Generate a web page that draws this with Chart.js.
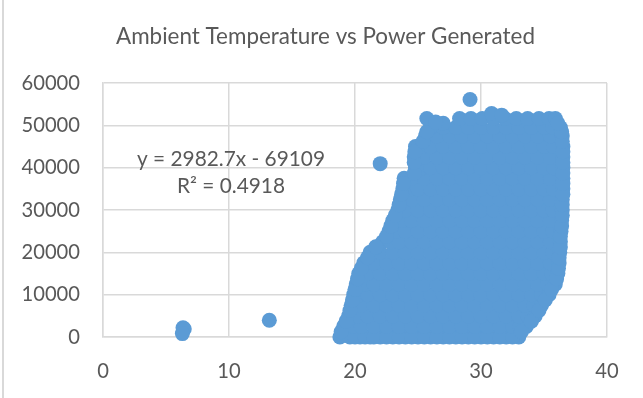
<!DOCTYPE html>
<html>
<head>
<meta charset="utf-8">
<script src="https://cdn.jsdelivr.net/npm/chart.js@4/dist/chart.umd.min.js"></script>
<style>
  html, body { margin: 0; padding: 0; background: #ffffff; }
  #wrap { position: relative; width: 643px; height: 398px; }
</style>
</head>
<body>
<div id="wrap"><canvas id="chart" width="643" height="398"></canvas></div>
<script>
// ---- chart text ----
const chartTitle = 'Ambient Temperature vs Power Generated';
const trendLabel = ['y = 2982.7x - 69109', 'R\u00B2 = 0.4918'];

// ---- axis ticks ----
const xTicks = [0, 10, 20, 30, 40];
const yTicks = [0, 10000, 20000, 30000, 40000, 50000, 60000];

// ---- readings: ambient temperature (x) vs power generated (y) ----
// dense band of readings, grouped by power level
const bandPower = [0, 0, 2500, 5000, 7500, 10000, 12500, 15000, 17500, 20000, 22500, 25000,
  27500, 30000, 32500, 35000, 37500, 40000, 42500, 45000, 47500, 49500, 51600];
const bandTemps = [
  [18.8,19.6,20.4,21.2,22,23,24,25,26,27,28,29,30,31,32,33],
  [20.0,20.8,21.5,22.5,23.5,24.5,25.5,26.5,27.5,28.5,29.5,30.5,31.5,32.5],
  [19.1,19.9,20.5,21.5,22.5,23.5,24.5,25.5,26.5,27.5,28.5,29.5,30.5,31.5,32.5,33.1,33.6],
  [19.5,20.2,21,22,23,24,25,26,27,28,29,30,31,32,33,33.7,34.3],
  [19.7,20.5,21.5,22.5,23.5,24.5,25.5,26.5,27.5,28.5,29.5,30.5,31.5,32.5,33.5,34.2,34.8],
  [19.9,20.45,21,22,23,24,25,26,27,28,29,30,31,32,33,34,34.8,35.4],
  [20.1,20.8,21.5,22.5,23.5,24.5,25.5,26.5,27.5,28.5,29.5,30.5,31.5,32.5,33.5,34.5,35.3,35.9],
  [20.3,21,22,23,24,25,26,27,28,29,30,31,32,33,34,35,35.6,36.1],
  [20.7,21.5,22.5,23.5,24.5,25.5,26.5,27.5,28.5,29.5,30.5,31.5,32.5,33.5,34.5,35.5,36.2],
  [21.2,22,23,24,25,26,27,28,29,30,31,32,33,34,35,35.7,36.25],
  [22.2,22.85,23.5,24.5,25.5,26.5,27.5,28.5,29.5,30.5,31.5,32.5,33.5,34.5,35.5,36.3],
  [22.7,23.35,24,25,26,27,28,29,30,31,32,33,34,35,35.7,36.35],
  [23,23.75,24.5,25.5,26.5,27.5,28.5,29.5,30.5,31.5,32.5,33.5,34.5,35.5,36.4],
  [23.4,24,25,26,27,28,29,30,31,32,33,34,35,35.7,36.45],
  [23.6,24.5,25.5,26.5,27.5,28.5,29.5,30.5,31.5,32.5,33.5,34.5,35.5,36.45],
  [23.8,24.4,25,26,27,28,29,30,31,32,33,34,35,35.75,36.5],
  [23.9,24.5,25.5,26.5,27.5,28.5,29.5,30.5,31.5,32.5,33.5,34.5,35.5,36.5],
  [24.8,25.4,26,27,28,29,30,31,32,33,34,35,35.75,36.5],
  [24.7,25.5,26.5,27.5,28.5,29.5,30.5,31.5,32.5,33.5,34.5,35.5,36.5],
  [24.8,25.4,26,27,28,29,30,31,32,33,34,35,35.75,36.5],
  [25.6,26.5,27.5,28.5,29.5,30.5,31.5,32.5,33.5,34.5,35.5,36.45],
  [26,27,28,29,30,31,32,33,34,35,35.7,36.3],
  [28.3,29.2,30.1,31,31.9,32.8,33.7,34.6,35.4,35.9]
];
// outermost readings at the in-between power levels (coolest and hottest)
const edgePower = [1250, 3750, 6250, 8750, 11250, 13750, 16250, 18750, 21250, 23750, 26250,
  28750, 31250, 33750, 36250, 38750, 41250, 43750, 46250, 48500, 50500];
const edgeCool = [18.9, 19.3, 19.6, 19.8, 20.0, 20.2, 20.5, 21.0, 21.7, 22.5, 22.85,
  23.2, 23.5, 23.7, 23.85, 24.7, 24.7, 24.75, 25.4, 25.7, 27.0];
const edgeHot = [33.2, 34.0, 34.6, 35.1, 35.6, 36.0, 36.15, 36.2, 36.3, 36.3, 36.4,
  36.45, 36.45, 36.5, 36.5, 36.5, 36.5, 36.5, 36.45, 36.4, 36.1];
// scattered individual readings
const sparseTemp  = [6.35, 6.45, 6.3, 13.2, 21.65, 22.0, 25.7, 26.4, 29.13, 30.84, 31.64];
const sparsePower = [2200, 1900, 800, 3960, 21300, 40950, 51600, 50800, 56100, 52800, 52400];

// ---- build the point list ----
const points = [];
bandPower.forEach((p, i) => bandTemps[i].forEach(t => points.push({ x: t, y: p })));
edgePower.forEach((p, i) => {
  points.push({ x: edgeCool[i], y: p });
  points.push({ x: edgeHot[i], y: p });
});
sparseTemp.forEach((t, i) => points.push({ x: t, y: sparsePower[i] }));

// ---- styling ----
const FONT = "Lato, 'Open Sans', 'DejaVu Sans', sans-serif";
const TEXT = '#595959';
const GRID = '#D9D9D9';
const MARK = '#5B9BD5';

// font size that makes a string span a given width
function fitSize(text, width) {
  const c = document.createElement('canvas').getContext('2d');
  c.font = '100px ' + FONT;
  return 100 * width / c.measureText(text).width;
}
const titleSize = fitSize(chartTitle, 419);
const tickSize = fitSize('60000', 58.5);
const labelSize = fitSize(trendLabel[0], 188);

const decorations = {
  id: 'decorations',
  beforeDraw(chart) {
    const ctx = chart.ctx;
    ctx.save();
    ctx.fillStyle = '#ffffff';
    ctx.fillRect(0, 0, chart.width, chart.height);
    ctx.fillStyle = GRID;
    ctx.fillRect(2, 0, 2, chart.height);
    ctx.restore();
  },
  afterDraw(chart) {
    const ctx = chart.ctx;
    const a = chart.chartArea;
    ctx.save();
    ctx.fillStyle = TEXT;
    ctx.textAlign = 'center';
    ctx.textBaseline = 'middle';
    ctx.font = titleSize.toFixed(2) + 'px ' + FONT;
    ctx.fillText(chartTitle, 325.5, 37);
    ctx.font = labelSize.toFixed(2) + 'px ' + FONT;
    ctx.fillText(trendLabel[0], a.left + 128, a.top + 76);
    ctx.fillText(trendLabel[1], a.left + 128, a.top + 103);
    ctx.restore();
  }
};

new Chart(document.getElementById('chart'), {
  type: 'scatter',
  data: {
    datasets: [{
      data: points,
      backgroundColor: MARK,
      borderColor: MARK,
      borderWidth: 0,
      pointRadius: 7.5,
      pointHoverRadius: 7.5,
      clip: false
    }]
  },
  options: {
    responsive: false,
    animation: false,
    devicePixelRatio: 1,
    events: [],
    layout: { padding: { top: 83, right: 36, left: 0, bottom: 0 } },
    plugins: { legend: { display: false }, tooltip: { enabled: false }, title: { display: false } },
    scales: {
      x: {
        type: 'linear', min: 0, max: 40,
        afterBuildTicks(s) { s.ticks = xTicks.map(v => ({ value: v })); },
        afterFit(s) { s.height = 61; },
        ticks: { color: TEXT, font: { family: FONT, size: tickSize }, padding: 22, maxRotation: 0,
                 callback: v => String(v) },
        grid: { color: GRID, lineWidth: 1.5, drawTicks: false },
        border: { color: GRID, width: 1.5 }
      },
      y: {
        type: 'linear', min: 0, max: 60000,
        afterBuildTicks(s) { s.ticks = yTicks.map(v => ({ value: v })); },
        afterFit(s) { s.width = 103; },
        ticks: { color: TEXT, font: { family: FONT, size: tickSize }, padding: 23,
                 callback: v => String(v) },
        grid: { color: GRID, lineWidth: 1.5, drawTicks: false },
        border: { color: GRID, width: 1.5 }
      }
    }
  },
  plugins: [decorations]
});
</script>
</body>
</html>
